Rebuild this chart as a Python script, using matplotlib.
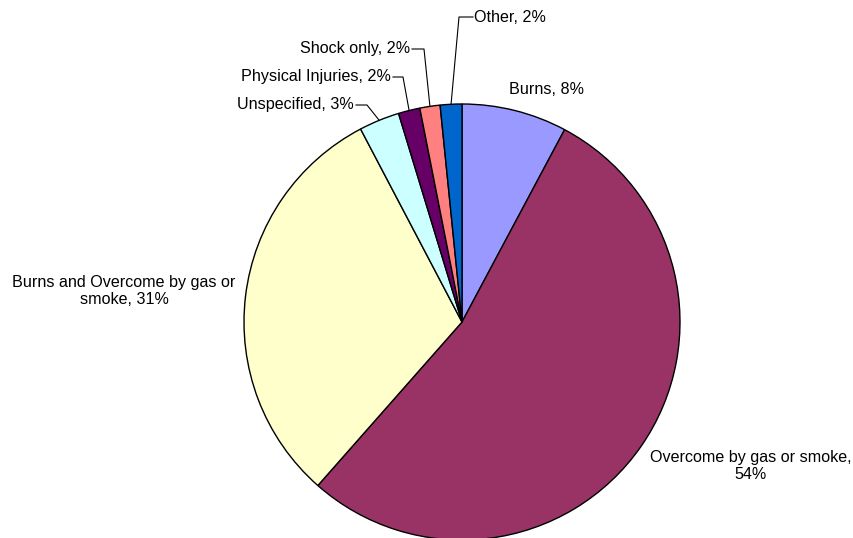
import numpy as np
import matplotlib
matplotlib.use("Agg")
import matplotlib.pyplot as plt

plt.rcParams['font.family'] = ['Liberation Sans', 'DejaVu Sans']

# slice data (percent), clockwise from 12 o'clock
categories = ["Burns", "Overcome by gas or smoke", "Burns and Overcome by gas or smoke",
              "Unspecified", "Physical Injuries", "Shock only", "Other"]
values = [7.8, 53.7, 30.8, 3.0, 1.6, 1.5, 1.6]
colors = ["#9999FF", "#993366", "#FFFFCC", "#CCFFFF", "#660066", "#FF8080", "#0066CC"]

fig = plt.figure(figsize=(8.54, 5.38), dpi=100)
ax = fig.add_axes([0, 0, 1, 1])

cx, cy, r = 462, 538 - 322, 218
wedges, _ = ax.pie(values, colors=colors, startangle=90, counterclock=False,
                   center=(cx, cy), radius=r, frame=True,
                   wedgeprops=dict(edgecolor='black', linewidth=1.0))
ax.set_xlim(0, 854)
ax.set_ylim(0, 538)
ax.set_aspect('equal')
ax.axis('off')

labels = [f"{c}, {int(v + 0.5)}%" for c, v in zip(categories, values)]
fs = 11.6

# labels placed directly (no leader)
ax.text(547, 538 - 90, labels[0], ha='center', va='center', fontsize=fs)
ax.text(751, 538 - 466, "Overcome by gas or smoke,\n54%", ha='center', va='center',
        fontsize=fs, linespacing=1.1)
ax.text(124, 538 - 291, "Burns and Overcome by gas or\nsmoke, 31%", ha='center', va='center',
        fontsize=fs, linespacing=1.1)

# labels with leader lines: (index, text end x, text y, knee x, side)
leaders = [(3, 354, 105, 367, 'right'),
           (4, 391, 77, 403, 'right'),
           (5, 410, 49, 424, 'right'),
           (6, 474, 17, 459, 'left')]
for i, tx, ty, kx, side in leaders:
    w = wedges[i]
    mid = np.deg2rad((w.theta1 + w.theta2) / 2)
    px, py = cx + r * np.cos(mid), cy + r * np.sin(mid)
    ty_d = 538 - ty
    if side == 'right':
        ax.plot([px, kx, tx + 2], [py, ty_d, ty_d], color='black', lw=0.8)
        ax.text(tx, ty_d, labels[i], ha='right', va='center', fontsize=fs)
    else:
        ax.plot([px, kx, tx - 1], [py, ty_d, ty_d], color='black', lw=0.8)
        ax.text(tx, ty_d, labels[i], ha='left', va='center', fontsize=fs)

fig.savefig("out.png", dpi=100)
